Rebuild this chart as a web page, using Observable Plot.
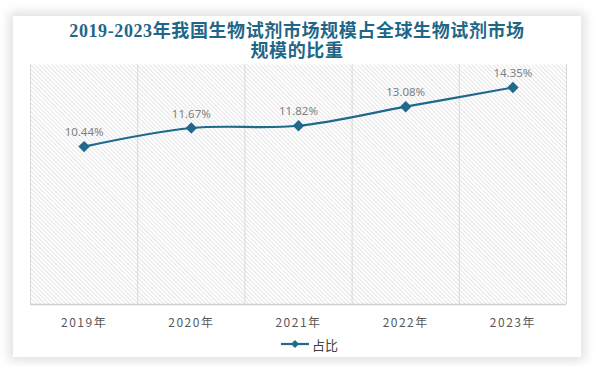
<!DOCTYPE html>
<html><head><meta charset="utf-8">
<script src="https://cdn.jsdelivr.net/npm/d3@7"></script>
<script src="https://cdn.jsdelivr.net/npm/@observablehq/plot@0.6"></script>
<style>
html,body{margin:0;padding:0;background:#fff;width:594px;height:366px;overflow:hidden;}
#card{position:absolute;left:13px;top:16px;width:568px;height:341px;background:#fff;box-shadow:0 0 10px 4px rgba(0,0,0,0.12);}
#title{position:absolute;left:0;top:21px;width:594px;text-align:center;font-family:"Liberation Serif","Noto Sans CJK SC",serif;font-weight:bold;font-size:18px;letter-spacing:0.6px;line-height:20px;color:#1f6688;}
#chart{position:absolute;left:0;top:56px;}
#legend{position:absolute;left:281px;top:335px;height:18px;display:flex;align-items:center;font-family:"Noto Sans CJK SC",sans-serif;font-size:13px;color:#404040;}
</style></head>
<body>
<div id="card"></div>
<div id="title">2019-2023年我国生物试剂市场规模占全球生物试剂市场<br>规模的比重</div>
<div id="chart"></div>
<div id="legend"><svg width="28" height="10"><line x1="0" y1="5" x2="28" y2="5" stroke="#20698c" stroke-width="2.2"/><path d="M14,1 L18,5 L14,9 L10,5 Z" fill="#20698c"/></svg><span style="margin-left:3px">占比</span></div>
<script>
const years = ["2019年","2020年","2021年","2022年","2023年"];
const shares = [10.44, 11.67, 11.82, 13.08, 14.35];
const labels = ["10.44%","11.67%","11.82%","13.08%","14.35%"];

const data = years.map((y, i) => ({i, year: y, v: shares[i], label: labels[i]}));
const bounds = d3.range(years.length + 1).map(k => k - 0.5);
const color = "#20698c";

const chart = Plot.plot({
  width: 594,
  height: 278,
  marginTop: 8,
  marginBottom: 30,
  marginLeft: 30,
  marginRight: 28,
  x: {domain: [-0.5, years.length - 0.5], axis: null},
  y: {domain: [0, 15.87], axis: null},
  marks: [
    Plot.frame({fill: "url(#hatch)", stroke: null}),
    Plot.ruleX(bounds, {stroke: "#d9d9d9", strokeWidth: 1}),
    Plot.ruleY([0], {stroke: "#d0d0d0", strokeWidth: 1.5}),
    Plot.axisX(data.map(d => d.i), {tickSize: 0, tickPadding: 14, tickFormat: i => years[i], fontSize: 12, fill: "#595959", fontFamily: "Noto Sans CJK SC, sans-serif", anchor: "bottom", label: null}),
    Plot.line(data, {x: "i", y: "v", stroke: color, strokeWidth: 2.2, curve: "catmull-rom"}),
    Plot.dot(data, {x: "i", y: "v", symbol: "diamond2", r: 4.2, fill: color, stroke: color}),
    Plot.text(data, {x: "i", y: "v", text: "label", dy: -14, fontSize: 11.5, fill: "#7f7f7f", fontFamily: "Noto Sans, sans-serif"})
  ],
  style: {background: "transparent", overflow: "visible"}
});

const svg = d3.select(chart);
const defs = svg.insert("defs", ":first-child");
const pat = defs.append("pattern").attr("id", "hatch").attr("patternUnits", "userSpaceOnUse")
  .attr("width", 3).attr("height", 3).attr("patternTransform", "rotate(-45)");
pat.append("rect").attr("width", 3).attr("height", 3).attr("fill", "#ffffff");
pat.append("line").attr("x1", 0).attr("y1", 0).attr("x2", 0).attr("y2", 3).attr("stroke", "#d2d2d2").attr("stroke-width", 1.2);
svg.selectAll("[aria-label='x-axis tick label'] text").style("letter-spacing", "1.5px");
document.getElementById("chart").appendChild(chart);
</script>
</body></html>
